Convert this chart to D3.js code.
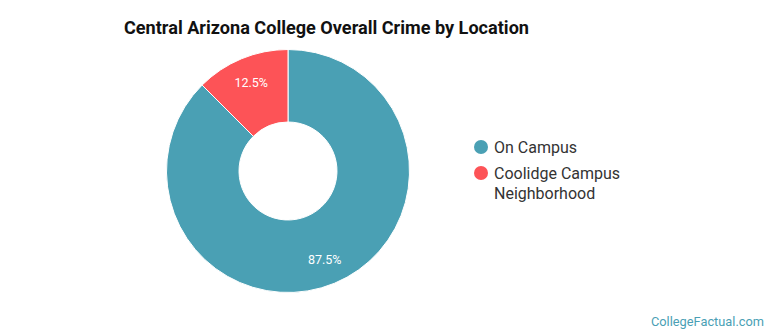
<!DOCTYPE html>
<html><head><meta charset="utf-8">
<script src="https://cdn.jsdelivr.net/npm/d3@7"></script>
<style>body{margin:0;background:#fff;}svg{display:block;font-family:Roboto,"Open Sans",sans-serif;}</style>
</head><body>
<svg id="c" width="770" height="335"></svg>
<script>
const categories = ["On Campus", "Coolidge Campus Neighborhood"];
const values = [87.5, 12.5];
const labels = ["87.5%", "12.5%"];
const legendLines = [["On Campus"], ["Coolidge Campus", "Neighborhood"]];
const colors = ["#4aa0b4", "#fd5357"];

const svg = d3.select("#c");
svg.append("text").attr("x", 124).attr("y", 34).attr("font-size", 18.1).attr("font-weight", "bold")
  .attr("fill", "#111").text("Central Arizona College Overall Crime by Location");

const cx = 288, cy = 171, rO = 121.5, rI = 49;
const pie = d3.pie().sort(null).value(d => d)(values);
const arc = d3.arc().innerRadius(rI).outerRadius(rO);
const labArc = d3.arc().innerRadius(96).outerRadius(96);
const g = svg.append("g").attr("transform", `translate(${cx},${cy})`);
g.selectAll("path").data(pie).join("path").attr("d", arc)
  .attr("fill", (d, i) => colors[i]).attr("stroke", "#fff").attr("stroke-width", 1);
g.selectAll("text").data(pie).join("text")
  .attr("transform", d => `translate(${labArc.centroid(d)})`)
  .attr("text-anchor", "middle").attr("dy", "0.35em").attr("font-size", 12.5)
  .attr("fill", "#fff").text((d, i) => labels[i]);

const lg = svg.append("g");
const ys = [147, 173];
categories.forEach((c, i) => {
  lg.append("circle").attr("cx", 481).attr("cy", ys[i]).attr("r", 7).attr("fill", colors[i]);
  const t = lg.append("text").attr("x", 494).attr("y", ys[i])
    .attr("font-size", 16).attr("fill", "#333");
  legendLines[i].forEach((l, j) => t.append("tspan").attr("x", 494).attr("dy", j === 0 ? "0.35em" : "1.3em").text(l));
});

svg.append("text").attr("x", 764).attr("y", 326).attr("text-anchor", "end").attr("font-size", 12.8)
  .attr("fill", "#4a9fb5").text("CollegeFactual.com");
</script>
</body></html>
